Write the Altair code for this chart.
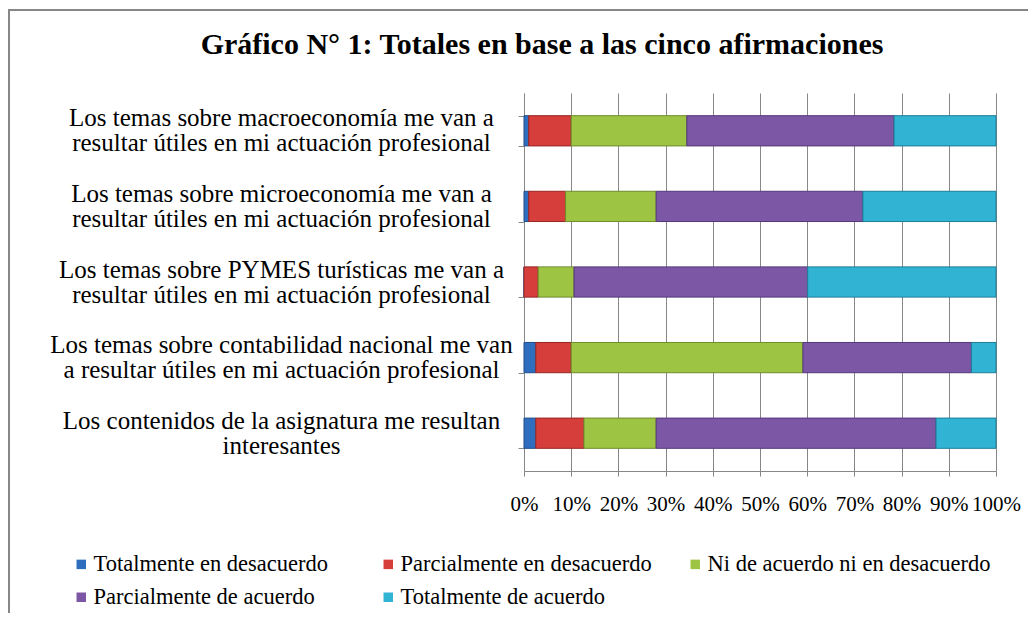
import altair as alt
import pandas as pd

TITLE = "Gráfico N° 1: Totales en base a las cinco afirmaciones"

statements = [
    "Los temas sobre macroeconomía me van a|resultar útiles en mi actuación profesional",
    "Los temas sobre microeconomía me van a|resultar útiles en mi actuación profesional",
    "Los temas sobre PYMES turísticas me van a|resultar útiles en mi actuación profesional",
    "Los temas sobre contabilidad nacional me van|a resultar útiles en mi actuación profesional",
    "Los contenidos de la asignatura me resultan|interesantes",
]
responses = [
    "Totalmente en desacuerdo",
    "Parcialmente en desacuerdo",
    "Ni de acuerdo ni en desacuerdo",
    "Parcialmente de acuerdo",
    "Totalmente de acuerdo",
]
# percentages per statement (top to bottom)
totalmente_desacuerdo = [1.0, 1.0, 0.0, 2.5, 2.5]
parcialmente_desacuerdo = [9.0, 7.8, 3.0, 7.5, 10.2]
ni_ni = [24.5, 19.2, 7.6, 49.1, 15.3]
parcialmente_acuerdo = [43.9, 43.8, 49.5, 35.7, 59.3]
totalmente_acuerdo = [21.6, 28.2, 39.9, 5.2, 12.7]
tick_values = [0, 0.1, 0.2, 0.3, 0.4, 0.5, 0.6, 0.7, 0.8, 0.9, 1.0]

fill_colors = ["#2F6EBF", "#D63E3B", "#9DC443", "#7B57A6", "#31B3D4"]
edge_colors = ["#1F4E8A", "#962624", "#6E8C2A", "#54387A", "#1D7E98"]

series = [totalmente_desacuerdo, parcialmente_desacuerdo, ni_ni,
          parcialmente_acuerdo, totalmente_acuerdo]
rows = []
for i, s in enumerate(statements):
    for j, r in enumerate(responses):
        rows.append({"statement": s, "response": r, "value": series[j][i], "k": j})
df = pd.DataFrame(rows)

FONT = "Liberation Serif"
GRAY = "#878787"

bars = alt.Chart(df).mark_bar(strokeWidth=1).encode(
    y=alt.Y(
        "statement:N", sort=statements,
        scale=alt.Scale(paddingInner=0.6, paddingOuter=0.3),
        axis=alt.Axis(
            title=None, labelExpr="split(datum.label, '|')",
            labelAlign="center", labelBaseline="middle", labelPadding=237,
            labelOffset=-13,
            labelFont=FONT, labelFontSize=25, labelLineHeight=25,
            labelColor="black", labelLimit=0, labelOverlap=False,
            tickBand="extent", tickSize=6, tickColor=GRAY,
            domainColor=GRAY, grid=False,
        ),
    ),
    x=alt.X(
        "value:Q", stack="normalize",
        scale=alt.Scale(domain=[0, 1], nice=False),
        axis=alt.Axis(
            title=None, values=tick_values, format=".0%",
            labelFont=FONT, labelFontSize=21, labelColor="black",
            labelPadding=17, tickSize=5, tickColor=GRAY,
            domainColor=GRAY, grid=True, gridColor=GRAY, gridWidth=1,
            labelFlush=False,
        ),
    ),
    color=alt.Color(
        "response:N", sort=responses,
        scale=alt.Scale(domain=responses, range=fill_colors),
        legend=alt.Legend(
            title=None, orient="none", legendX=-454, legendY=460,
            direction="horizontal", columns=3, gridAlign="all",
            columnPadding=0, rowPadding=10,
            symbolType="square", symbolSize=90, symbolStrokeWidth=0,
            labelFont=FONT, labelFontSize=22.5, labelColor="black",
            labelOffset=1, labelLimit=0,
        ),
    ),
    stroke=alt.Stroke(
        "response:N", sort=responses,
        scale=alt.Scale(domain=responses, range=edge_colors), legend=None,
    ),
    order=alt.Order("k:Q"),
)

frame = alt.Chart(pd.DataFrame({"f": [0]})).mark_rect(
    filled=False, stroke=GRAY, strokeWidth=2
).encode(
    x=alt.value(-515), x2=alt.value(700), y=alt.value(-83), y2=alt.value(700)
)

title = alt.Chart(pd.DataFrame({"t": [TITLE]})).mark_text(
    font=FONT, fontSize=30, fontWeight="bold", align="center",
    baseline="middle", color="black"
).encode(x=alt.value(18), y=alt.value(-48), text="t:N")

chart = alt.layer(frame, bars, title).properties(
    width=472, height=378,
    padding={"left": 516, "top": 85, "right": 32, "bottom": 142},
    autosize="none",
    background="white",
).configure_view(stroke=None)

chart.save("out.html", embed_options={"renderer": "svg", "actions": False})
